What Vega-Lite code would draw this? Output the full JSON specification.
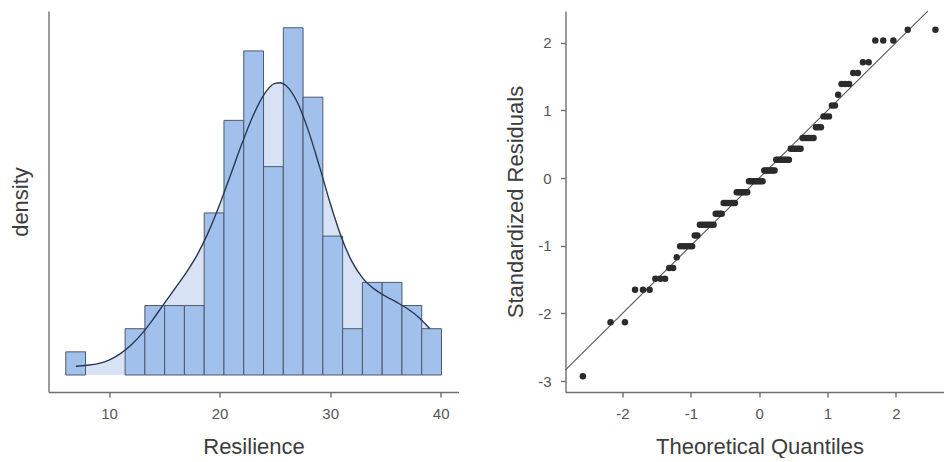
{
  "$schema": "https://vega.github.io/schema/vega-lite/v6.json",
  "padding": {"left": 8.5, "top": 8, "right": 0, "bottom": 0},
  "bounds": "flush",
  "spacing": 107,
  "config": {
    "view": {"stroke": null},
    "font": "Liberation Sans",
    "axis": {
      "grid": false,
      "domainColor": "#707070",
      "domainWidth": 1.4,
      "tickColor": "#707070",
      "tickWidth": 1.4,
      "tickSize": 5,
      "labelFont": "Liberation Sans",
      "labelFontSize": 15,
      "labelColor": "#555555",
      "labelPadding": 9.5,
      "titleFont": "Liberation Sans",
      "titleFontSize": 22,
      "titleFontWeight": "normal",
      "titleColor": "#3c3c3c"
    }
  },
  "datasets": {
    "bins": [
      {"lo": 6.09, "hi": 7.879, "density": 0.005536},
      {"lo": 11.456, "hi": 13.244, "density": 0.011072},
      {"lo": 13.244, "hi": 15.033, "density": 0.016608},
      {"lo": 15.033, "hi": 16.821, "density": 0.016608},
      {"lo": 16.821, "hi": 18.61, "density": 0.016608},
      {"lo": 18.61, "hi": 20.398, "density": 0.038752},
      {"lo": 20.398, "hi": 22.187, "density": 0.060896},
      {"lo": 22.187, "hi": 23.975, "density": 0.077504},
      {"lo": 23.975, "hi": 25.764, "density": 0.049824},
      {"lo": 25.764, "hi": 27.552, "density": 0.08304},
      {"lo": 27.552, "hi": 29.341, "density": 0.066432},
      {"lo": 29.341, "hi": 31.129, "density": 0.033216},
      {"lo": 31.129, "hi": 32.918, "density": 0.011072},
      {"lo": 32.918, "hi": 34.706, "density": 0.022144},
      {"lo": 34.706, "hi": 36.495, "density": 0.022144},
      {"lo": 36.495, "hi": 38.283, "density": 0.016608},
      {"lo": 38.283, "hi": 40.072, "density": 0.011072}
    ],
    "kde": [
      {"resilience": 7, "density": 0.002094},
      {"resilience": 8, "density": 0.002329},
      {"resilience": 9, "density": 0.002708},
      {"resilience": 10, "density": 0.00356},
      {"resilience": 11, "density": 0.005041},
      {"resilience": 12, "density": 0.007168},
      {"resilience": 13, "density": 0.009964},
      {"resilience": 14, "density": 0.013381},
      {"resilience": 15, "density": 0.017114},
      {"resilience": 16, "density": 0.020809},
      {"resilience": 17, "density": 0.024534},
      {"resilience": 18, "density": 0.028837},
      {"resilience": 19, "density": 0.03423},
      {"resilience": 20, "density": 0.040723},
      {"resilience": 21, "density": 0.047892},
      {"resilience": 22, "density": 0.055156},
      {"resilience": 23, "density": 0.061817},
      {"resilience": 24, "density": 0.067003},
      {"resilience": 25, "density": 0.069721},
      {"resilience": 25.5, "density": 0.0699},
      {"resilience": 26, "density": 0.069237},
      {"resilience": 27, "density": 0.065395},
      {"resilience": 28, "density": 0.058679},
      {"resilience": 29, "density": 0.050196},
      {"resilience": 30, "density": 0.041122},
      {"resilience": 31, "density": 0.033086},
      {"resilience": 32, "density": 0.026979},
      {"resilience": 33, "density": 0.022974},
      {"resilience": 34, "density": 0.020532},
      {"resilience": 35, "density": 0.018865},
      {"resilience": 36, "density": 0.017409},
      {"resilience": 37, "density": 0.015832},
      {"resilience": 38, "density": 0.013813},
      {"resilience": 39, "density": 0.011108}
    ],
    "refline": [
      {"tq": -2.834, "sr": -2.834},
      {"tq": 2.468, "sr": 2.468}
    ],
    "qq": [
      {"tq": -2.58, "sr": -2.93},
      {"tq": -2.175, "sr": -2.13},
      {"tq": -1.964, "sr": -2.13},
      {"tq": -1.816, "sr": -1.65},
      {"tq": -1.7, "sr": -1.65},
      {"tq": -1.603, "sr": -1.65},
      {"tq": -1.519, "sr": -1.49},
      {"tq": -1.445, "sr": -1.49},
      {"tq": -1.377, "sr": -1.49},
      {"tq": -1.316, "sr": -1.33},
      {"tq": -1.259, "sr": -1.33},
      {"tq": -1.206, "sr": -1.17},
      {"tq": -1.156, "sr": -1.009},
      {"tq": -1.109, "sr": -1.009},
      {"tq": -1.065, "sr": -1.009},
      {"tq": -1.022, "sr": -1.009},
      {"tq": -0.981, "sr": -1.009},
      {"tq": -0.942, "sr": -0.849},
      {"tq": -0.904, "sr": -0.849},
      {"tq": -0.867, "sr": -0.689},
      {"tq": -0.831, "sr": -0.689},
      {"tq": -0.797, "sr": -0.689},
      {"tq": -0.763, "sr": -0.689},
      {"tq": -0.73, "sr": -0.689},
      {"tq": -0.698, "sr": -0.689},
      {"tq": -0.667, "sr": -0.689},
      {"tq": -0.636, "sr": -0.529},
      {"tq": -0.606, "sr": -0.529},
      {"tq": -0.577, "sr": -0.529},
      {"tq": -0.548, "sr": -0.529},
      {"tq": -0.519, "sr": -0.369},
      {"tq": -0.491, "sr": -0.369},
      {"tq": -0.463, "sr": -0.369},
      {"tq": -0.435, "sr": -0.369},
      {"tq": -0.408, "sr": -0.369},
      {"tq": -0.381, "sr": -0.369},
      {"tq": -0.355, "sr": -0.369},
      {"tq": -0.328, "sr": -0.209},
      {"tq": -0.302, "sr": -0.209},
      {"tq": -0.276, "sr": -0.209},
      {"tq": -0.251, "sr": -0.209},
      {"tq": -0.225, "sr": -0.209},
      {"tq": -0.2, "sr": -0.209},
      {"tq": -0.174, "sr": -0.209},
      {"tq": -0.149, "sr": -0.049},
      {"tq": -0.124, "sr": -0.049},
      {"tq": -0.099, "sr": -0.049},
      {"tq": -0.075, "sr": -0.049},
      {"tq": -0.05, "sr": -0.049},
      {"tq": -0.025, "sr": -0.049},
      {"tq": 0, "sr": -0.049},
      {"tq": 0.025, "sr": -0.049},
      {"tq": 0.05, "sr": -0.049},
      {"tq": 0.075, "sr": 0.111},
      {"tq": 0.099, "sr": 0.111},
      {"tq": 0.124, "sr": 0.111},
      {"tq": 0.149, "sr": 0.111},
      {"tq": 0.174, "sr": 0.111},
      {"tq": 0.2, "sr": 0.111},
      {"tq": 0.225, "sr": 0.111},
      {"tq": 0.251, "sr": 0.271},
      {"tq": 0.276, "sr": 0.271},
      {"tq": 0.302, "sr": 0.271},
      {"tq": 0.328, "sr": 0.271},
      {"tq": 0.355, "sr": 0.271},
      {"tq": 0.381, "sr": 0.271},
      {"tq": 0.408, "sr": 0.271},
      {"tq": 0.435, "sr": 0.271},
      {"tq": 0.463, "sr": 0.431},
      {"tq": 0.491, "sr": 0.431},
      {"tq": 0.519, "sr": 0.431},
      {"tq": 0.548, "sr": 0.431},
      {"tq": 0.577, "sr": 0.431},
      {"tq": 0.606, "sr": 0.431},
      {"tq": 0.636, "sr": 0.591},
      {"tq": 0.667, "sr": 0.591},
      {"tq": 0.698, "sr": 0.591},
      {"tq": 0.73, "sr": 0.591},
      {"tq": 0.763, "sr": 0.591},
      {"tq": 0.797, "sr": 0.591},
      {"tq": 0.831, "sr": 0.751},
      {"tq": 0.867, "sr": 0.751},
      {"tq": 0.904, "sr": 0.751},
      {"tq": 0.942, "sr": 0.911},
      {"tq": 0.981, "sr": 0.911},
      {"tq": 1.022, "sr": 0.911},
      {"tq": 1.065, "sr": 1.071},
      {"tq": 1.109, "sr": 1.071},
      {"tq": 1.156, "sr": 1.231},
      {"tq": 1.206, "sr": 1.391},
      {"tq": 1.259, "sr": 1.391},
      {"tq": 1.316, "sr": 1.391},
      {"tq": 1.377, "sr": 1.551},
      {"tq": 1.445, "sr": 1.551},
      {"tq": 1.519, "sr": 1.711},
      {"tq": 1.603, "sr": 1.711},
      {"tq": 1.7, "sr": 2.032},
      {"tq": 1.816, "sr": 2.032},
      {"tq": 1.964, "sr": 2.032},
      {"tq": 2.175, "sr": 2.192},
      {"tq": 2.58, "sr": 2.192}
    ]
  },
  "hconcat": [
    {
      "width": 410,
      "height": 381,
      "layer": [
        {
          "data": {"name": "kde"},
          "mark": {"type": "area", "color": "#d7e2f5", "interpolate": "monotone", "opacity": 1},
          "encoding": {
            "x": {
              "field": "resilience", "type": "quantitative",
              "scale": {"domain": [4.528, 41.61], "nice": false, "zero": false},
              "axis": {"values": [10, 20, 30, 40], "title": "Resilience", "titlePadding": 15}
            },
            "y": {
              "field": "density", "type": "quantitative",
              "scale": {"domain": [-0.004065, 0.087046], "nice": false, "zero": false},
              "axis": {"title": "density", "ticks": false, "labels": false, "titlePadding": 16.5}
            },
            "y2": {"datum": 0}
          }
        },
        {
          "data": {"name": "bins"},
          "mark": {"type": "rect", "fill": "#a2c0ec", "stroke": "#4b586d", "strokeWidth": 1},
          "encoding": {
            "x": {"field": "lo", "type": "quantitative"},
            "x2": {"field": "hi"},
            "y": {"field": "density", "type": "quantitative"},
            "y2": {"datum": 0}
          }
        },
        {
          "data": {"name": "kde"},
          "mark": {"type": "line", "color": "#2a3950", "strokeWidth": 1.4, "interpolate": "monotone"},
          "encoding": {
            "x": {"field": "resilience", "type": "quantitative"},
            "y": {"field": "density", "type": "quantitative"}
          }
        }
      ]
    },
    {
      "width": 378,
      "height": 381,
      "layer": [
        {
          "data": {"name": "refline"},
          "mark": {"type": "line", "color": "#555555", "strokeWidth": 1.1},
          "encoding": {
            "x": {
              "field": "tq", "type": "quantitative",
              "scale": {"domain": [-2.834, 2.698], "nice": false, "zero": false},
              "axis": {"values": [-2, -1, 0, 1, 2], "title": "Theoretical Quantiles", "titleX": 194, "titlePadding": 15, "labelExpr": "'' + datum.value"}
            },
            "y": {
              "field": "sr", "type": "quantitative",
              "scale": {"domain": [-3.1625, 2.4685], "nice": false, "zero": false},
              "axis": {"values": [-3, -2, -1, 0, 1, 2], "title": "Standardized Residuals", "titlePadding": 10, "labelExpr": "'' + datum.value"}
            }
          }
        },
        {
          "data": {"name": "qq"},
          "mark": {"type": "circle", "size": 42, "color": "#2b2b2b", "opacity": 1},
          "encoding": {
            "x": {"field": "tq", "type": "quantitative"},
            "y": {"field": "sr", "type": "quantitative"}
          }
        }
      ]
    }
  ]
}
